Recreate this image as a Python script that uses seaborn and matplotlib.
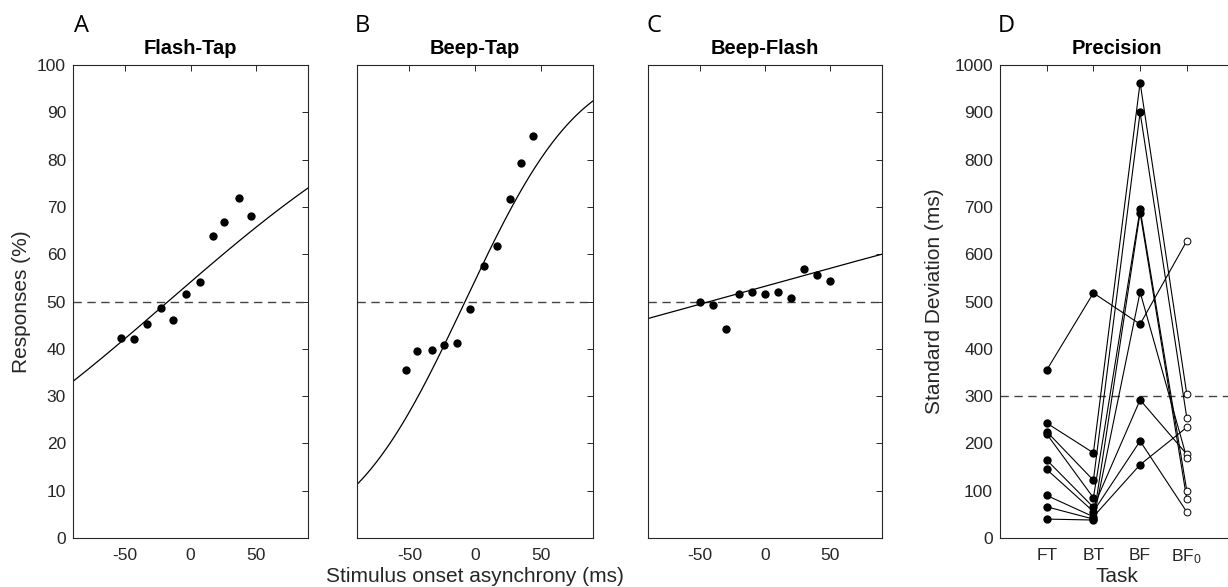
import numpy as np
import pandas as pd
import matplotlib
matplotlib.use("Agg")
import matplotlib.pyplot as plt
import seaborn as sns
from math import erf, sqrt

# ---------------- data ----------------
soa_ft = [-53, -43, -33, -22.5, -13.5, -3.5, 7, 17, 26, 37, 46]
resp_ft = [42.2, 42.0, 45.3, 48.7, 46.1, 51.5, 54.2, 63.8, 66.9, 71.9, 68.1]
soa_bt = [-53, -44, -33, -23.5, -14, -3.5, 7, 17, 26.5, 35, 44.5]
resp_bt = [35.6, 39.6, 39.8, 40.8, 41.3, 48.5, 57.5, 61.8, 71.6, 79.3, 85.0]
soa_bf = [-50, -40, -30, -20, -10, 0, 10, 20, 30, 40, 50]
resp_bf = [50.0, 49.2, 44.2, 51.5, 52.1, 51.5, 52.1, 50.8, 56.9, 55.5, 54.4]

# cumulative-Gaussian fit parameters (PSE, sigma)
fit_pse = [-17.2, -7.6, -42.7]
fit_sigma = [166.7, 68.1, 523.7]

panel_titles = ["Flash-Tap", "Beep-Tap", "Beep-Flash", "Precision"]
panel_letters = ["A", "B", "C", "D"]

tasks = ["FT", "BT", "BF", "BF$_0$"]
sd_ft = [355, 243, 225, 220, 165, 145, 90, 66, 40]
sd_bt = [518, 180, 122, 85, 65, 56, 45, 40, 38]
sd_bf = [452, 963, 900, 695, 292, 205, 155, 688, 520]
sd_bf0 = [628, 304, 254, 100, 177, 55, 234, 82, 169]

# ---------------- style ----------------
sns.set_style("white")
plt.rcParams["font.family"] = ["Liberation Sans", "DejaVu Sans"]
plt.rcParams["mathtext.default"] = "regular"
plt.rcParams["axes.unicode_minus"] = False
INK = "#262626"
DASH = (0, (6, 4))

W, H = 1228, 587
fig = plt.figure(figsize=(W / 100, H / 100), dpi=100)

top_px, bot_px = 65, 538
AX_H = bot_px - top_px
def axes_px(left, right):
    return fig.add_axes([left / W, (H - bot_px) / H, (right - left) / W, AX_H / H])

axA = axes_px(73, 308)
axB = axes_px(357, 593)
axC = axes_px(648, 882)
axD = axes_px(1000, 1233.5)

def style(ax, ylabels=True):
    ax.tick_params(direction="in", top=True, right=True, length=4, width=0.7,
                   colors=INK, labelsize=12.5, pad=5)
    ax.tick_params(axis="x", pad=7)
    for s in ax.spines.values():
        s.set_visible(True)
        s.set_color(INK)
        s.set_linewidth(0.8)
    if not ylabels:
        ax.set_yticklabels([])

def psychometric(x, mu, sigma):
    return np.array([50 * (1 + erf((v - mu) / (sigma * sqrt(2)))) for v in x])

xs = np.linspace(-90, 90, 361)
groups = [(axA, soa_ft, resp_ft), (axB, soa_bt, resp_bt), (axC, soa_bf, resp_bf)]
for i, (ax, sx, sy) in enumerate(groups):
    ax.axhline(50, color="#444444", lw=1.0, ls=DASH, zorder=1)
    fit_df = pd.DataFrame({"soa": xs, "resp": psychometric(xs, fit_pse[i], fit_sigma[i])})
    sns.lineplot(data=fit_df, x="soa", y="resp", ax=ax, color="black", lw=0.9, zorder=2)
    pts = pd.DataFrame({"soa": sx, "resp": sy})
    sns.scatterplot(data=pts, x="soa", y="resp", ax=ax, color="black", s=36,
                    edgecolor="black", linewidth=0, zorder=3)
    ax.set_xlim(-90, 90)
    ax.set_ylim(0, 100)
    ax.set_xticks([-50, 0, 50])
    ax.set_yticks(np.arange(0, 101, 10))
    ax.set_xlabel("")
    ax.set_ylabel("")
    style(ax, ylabels=(i == 0))

axA.set_ylabel("Responses (%)", fontsize=15, color=INK, va="center")
axA.yaxis.set_label_coords(-(73 - 22) / 235, 0.5)
axB.set_xlabel("Stimulus onset asynchrony (ms)", fontsize=15, color=INK, va="center")
axB.xaxis.set_label_coords(0.5, -(577 - bot_px) / AX_H)

# ---------------- panel D ----------------
n = len(sd_ft)
cols = [sd_ft, sd_bt, sd_bf, sd_bf0]
df = pd.DataFrame({
    "participant": np.tile(np.arange(n), 4),
    "pos": np.repeat(np.arange(1, 5), n),
    "sd": np.concatenate([np.asarray(c, float) for c in cols]),
})
axD.axhline(300, color="#444444", lw=1.0, ls=DASH, zorder=1)
sns.lineplot(data=df, x="pos", y="sd", units="participant", estimator=None,
             ax=axD, color="black", lw=0.8, zorder=2)
filled = df[df["pos"] < 4]
hollow = df[df["pos"] == 4]
sns.scatterplot(data=filled, x="pos", y="sd", ax=axD, color="black", s=36,
                linewidth=0, zorder=3)
sns.scatterplot(data=hollow, x="pos", y="sd", ax=axD, facecolor="white", s=24,
                edgecolor="black", linewidth=0.7, zorder=3)
axD.set_xlim(0, 5)
axD.set_ylim(0, 1000)
axD.set_xticks(np.arange(1, 5))
axD.set_xticklabels(tasks)
axD.set_yticks(np.arange(0, 1001, 100))
style(axD)
axD.set_ylabel("Standard Deviation (ms)", fontsize=15, color=INK, va="center")
axD.yaxis.set_label_coords(-(1000 - 935) / 233.5, 0.5)
axD.set_xlabel("Task", fontsize=15, color=INK, va="center")
axD.xaxis.set_label_coords((1117 - 1000) / 233.5, -(577 - bot_px) / AX_H)

# titles and letters
for ax, t in zip([axA, axB, axC, axD], panel_titles):
    ax.set_title(t, fontsize=14.5, fontweight="bold", color="black",
                 y=1 + 16.5 / AX_H, pad=0, va="center")
axD.title.set_x((1117 - 1000) / 233.5)
for letter, xp in zip(panel_letters, [81, 362, 654, 1006]):
    fig.text(xp / W, 1 - 26 / H, letter, fontsize=17, ha="center", va="center",
             family=["Open Sans", "DejaVu Sans"], color="black")

fig.savefig("out.png", dpi=100)
